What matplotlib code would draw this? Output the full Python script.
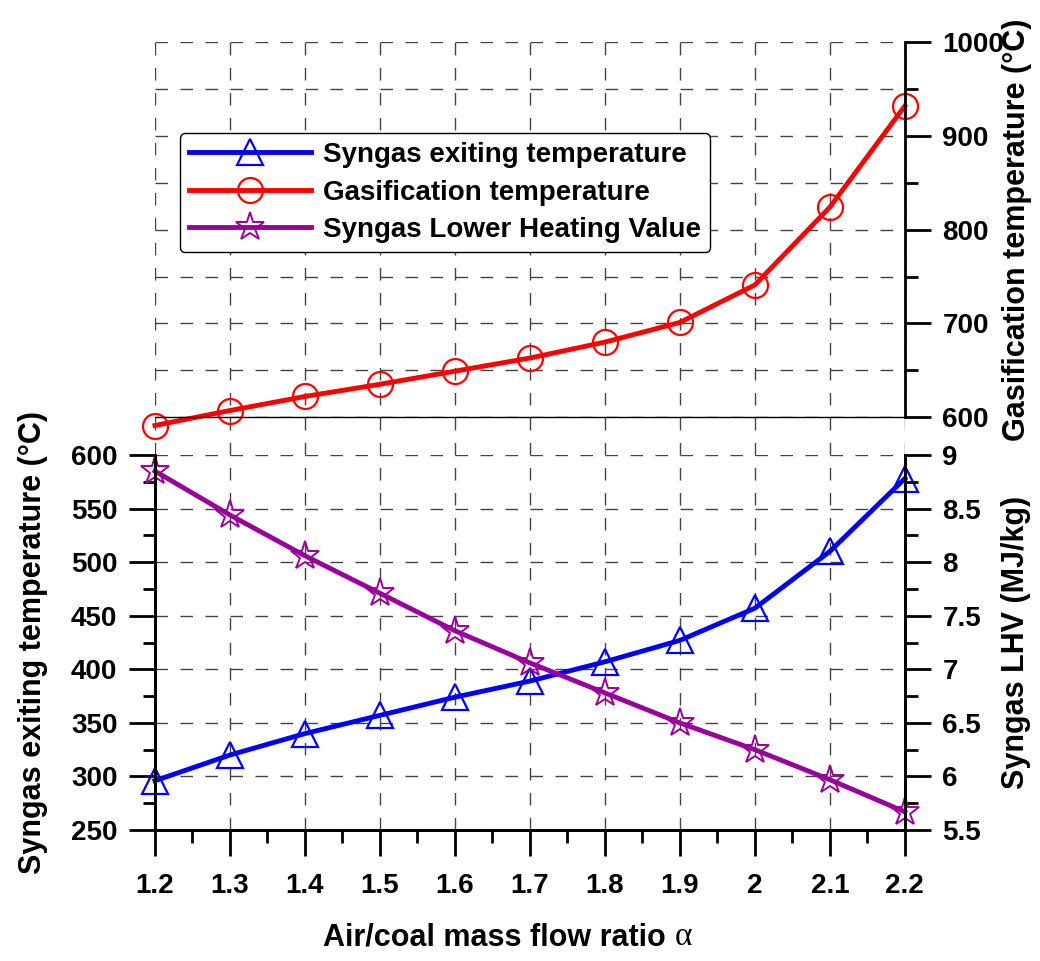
import matplotlib
matplotlib.use('Agg')
import matplotlib.pyplot as plt
from matplotlib.ticker import MultipleLocator, FormatStrFormatter

plt.rcParams['font.family'] = ['Liberation Sans', 'DejaVu Sans']
plt.rcParams['font.weight'] = 'bold'
plt.rcParams['axes.labelweight'] = 'bold'

# data
ratio = [1.2, 1.3, 1.4, 1.5, 1.6, 1.7, 1.8, 1.9, 2.0, 2.1, 2.2]
gasif_temp = [591, 607, 622, 635, 649, 663, 680, 701, 741, 824, 932]
syngas_temp = [296, 320, 340, 357, 374, 389, 407, 427, 457, 510, 578]
syngas_lhv = [8.85, 8.44, 8.06, 7.71, 7.36, 7.06, 6.78, 6.50, 6.25, 5.97, 5.67]

xticks = [1.2, 1.3, 1.4, 1.5, 1.6, 1.7, 1.8, 1.9, 2.0, 2.1, 2.2]
xlabels = ['1.2', '1.3', '1.4', '1.5', '1.6', '1.7', '1.8', '1.9', '2', '2.1', '2.2']

FS = 20
LFS = 22
grid_kw = dict(color='#444444', lw=1.0, ls=(0, (9, 9)))
major_kw = dict(direction='out', length=19, width=2, labelsize=FS)
minor_kw = dict(direction='out', length=9, width=2)

fig = plt.figure(figsize=(10.4, 9.61), dpi=100)
L, W = 0.149, 0.721
bot_y, h = 0.1363, 0.3902
top_y = 0.566

# background axes: vertical grid running through both panels
bg = fig.add_axes([L, bot_y, W, 0.956 - bot_y])
bg.set_xlim(1.2, 2.2)
bg.set_ylim(0, 1)
bg.set_xticks(xticks)
bg.grid(axis='x', **grid_kw)
bg.tick_params(length=0, labelbottom=False, labelleft=False)
for s in bg.spines.values():
    s.set_visible(False)
bg.patch.set_visible(False)

# lower panel
ax = fig.add_axes([L, bot_y, W, h])
ax.patch.set_visible(False)
ax.set_xlim(1.2, 2.2)
ax.set_ylim(250, 600)
ax.set_xticks(xticks)
ax.set_xticklabels(xlabels)
ax.xaxis.set_minor_locator(MultipleLocator(0.05))
ax.yaxis.set_major_locator(MultipleLocator(50))
ax.yaxis.set_minor_locator(MultipleLocator(25))
ax.grid(axis='y', **grid_kw)
ax.tick_params(which='major', **major_kw)
ax.tick_params(which='minor', **minor_kw)
ax.tick_params(axis='x', which='major', pad=12)
ax.tick_params(axis='y', which='major', pad=8)
ax.spines['top'].set_visible(False)
for s in ['left', 'bottom', 'right']:
    ax.spines[s].set_linewidth(2)
l1, = ax.plot(ratio, syngas_temp, color='#0000ff', lw=3.5, marker='^', ms=19,
              mfc='none', mew=1.6, label='Syngas exiting temperature', clip_on=False, zorder=4)
ax.set_ylabel('Syngas exiting temperature (°C)', fontsize=LFS)
ax.yaxis.set_label_coords(-0.142, 0.5)

ax2 = ax.twinx()
ax2.set_ylim(5.5, 9)
ax2.yaxis.set_major_locator(MultipleLocator(0.5))
ax2.yaxis.set_minor_locator(MultipleLocator(0.25))
ax2.yaxis.set_major_formatter(FormatStrFormatter('%g'))
ax2.tick_params(which='major', **major_kw)
ax2.tick_params(which='minor', **minor_kw)
ax2.tick_params(axis='y', which='major', pad=8)
ax2.spines['top'].set_visible(False)
for s in ['left', 'bottom', 'right']:
    ax2.spines[s].set_linewidth(2)
l3, = ax2.plot(ratio, syngas_lhv, color='#990099', lw=3.5, marker='*', ms=21,
               mfc='none', mew=1.4, label='Syngas Lower Heating Value', clip_on=False)
ax2.set_ylabel('Syngas LHV (MJ/kg)', fontsize=LFS)
ax2.yaxis.set_label_coords(1.128, 0.5)

# upper panel
ax3 = fig.add_axes([L, top_y, W, 0.956 - top_y])
ax3.patch.set_visible(False)
ax3.set_xlim(1.2, 2.2)
ax3.set_ylim(600, 1000)
ax3.set_xticks([])
ax3.yaxis.tick_right()
ax3.yaxis.set_label_position('right')
ax3.yaxis.set_major_locator(MultipleLocator(100))
ax3.yaxis.set_minor_locator(MultipleLocator(50))
ax3.grid(axis='y', which='both', **grid_kw)
ax3.tick_params(which='major', **major_kw)
ax3.tick_params(which='minor', **minor_kw)
ax3.tick_params(axis='y', which='major', pad=8)
ax3.spines['top'].set_visible(False)
ax3.spines['left'].set_visible(False)
ax3.spines['right'].set_linewidth(2)
ax3.spines['bottom'].set_linewidth(1)
l2, = ax3.plot(ratio, gasif_temp, color='#ff0000', lw=3.5, marker='o', ms=18,
               mfc='none', mew=1.6, label='Gasification temperature', clip_on=False)
ax3.set_ylabel('Gasification temperature (°C)', fontsize=LFS)
ax3.yaxis.set_label_coords(1.13, 0.5)

leg = ax3.legend(handles=[l1, l2, l3], loc='upper left', bbox_to_anchor=(0.033, 0.758),
                 fontsize=20, handlelength=4.4, handletextpad=0.45, labelspacing=0.42,
                 borderpad=0.32, fancybox=True, framealpha=1, edgecolor='black',
                 borderaxespad=0)
leg.get_frame().set_linewidth(1)

# x label: bold sans text followed by a serif alpha
base_y = 1 - 945 / 961
xl = fig.text(323 / 1040, base_y, 'Air/coal mass flow ratio', fontsize=LFS,
              fontweight='bold', ha='left', va='baseline')
fig.canvas.draw()
bb = xl.get_window_extent()
fig.text((bb.x1 + 9) / 1040, base_y, '\u03b1', fontsize=24, fontweight='normal',
         family=['Liberation Serif', 'DejaVu Serif'], ha='left', va='baseline')

fig.savefig('out.png', dpi=100)
